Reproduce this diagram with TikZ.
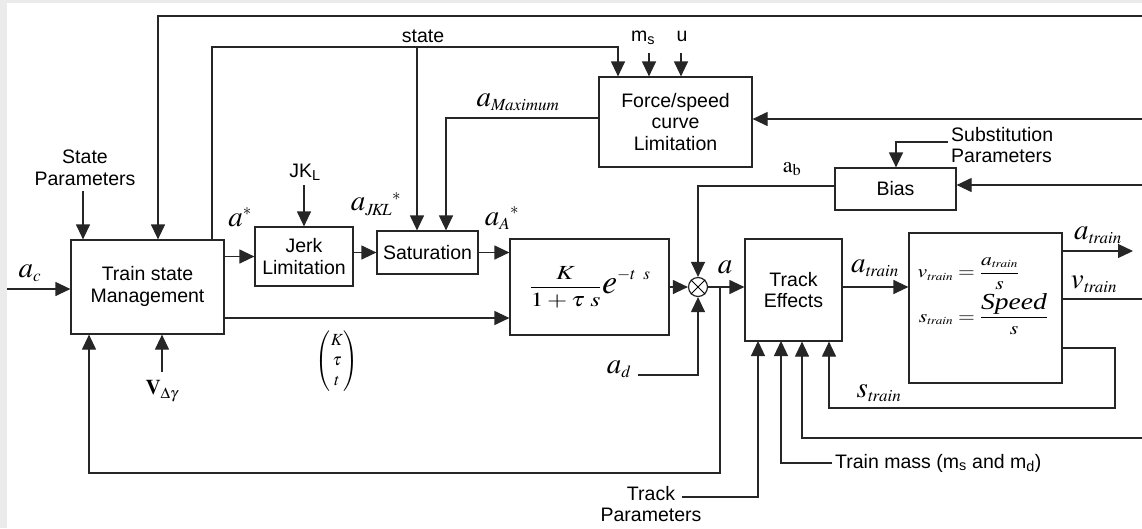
\documentclass[tikz,border=0pt]{standalone}
\usepackage{amsmath}
\usepackage{graphicx}
\usepackage{mathptmx}
\usepackage[no-math]{fontspec}
\setmainfont{Liberation Sans}
\newfontfamily\tms{Liberation Serif}
\usetikzlibrary{arrows.meta}
\DeclareMathSizes{29}{29}{17}{13}
\DeclareMathSizes{18}{18}{11}{9}
\DeclareMathSizes{20}{20}{13}{10}
\begin{document}
\begin{tikzpicture}[x=1pt,y=-1pt,
  ln/.style={line width=1.2pt, draw=black!85},
  arr/.style={ln, -{Triangle[length=15pt,width=14pt]}},
  blk/.style={draw=black!85, line width=1.2pt, rectangle, inner sep=0pt, align=center,
              font=\fontsize{19.5}{21.5}\selectfont, fill=white},
  txt/.style={inner sep=0pt, align=center, font=\fontsize{19.5}{21.5}\selectfont},
  mth/.style={inner sep=0pt, font=\fontsize{29}{32}\selectfont},
]
% background
\fill[gray!16] (0,0) rectangle (1142,528);
\fill[white] (7,3) rectangle (1142,528);
\useasboundingbox (0,0) rectangle (1142,528);

% blocks
\node[blk, minimum width=153pt, minimum height=94pt] (tsm) at (147.5,287) {\raisebox{-5pt}{\begin{tabular}{@{}c@{}}Train state\\Management\end{tabular}}};
\node[blk, minimum width=98pt, minimum height=59pt] (jl) at (304,256.5) {Jerk\\Limitation};
\node[blk, minimum width=101pt, minimum height=43pt] (sat) at (427.5,252.5) {Saturation};
\node[blk, minimum width=159pt, minimum height=96pt] (tf) at (589.5,287)
  {\scalebox{1.3}[1]{\fontsize{20}{24}\selectfont$\dfrac{K}{1+\tau\;s}$}\raisebox{-1pt}{\fontsize{34}{36}\selectfont$e$}\raisebox{13pt}{\fontsize{17}{18}\selectfont$-t\;\;s$}};
\node[circle, draw=black!85, line width=1.2pt, minimum size=19pt, inner sep=0pt, fill=white] (sum) at (698,287) {};
\draw[line width=1pt] (sum.north west) -- (sum.south east) (sum.north east) -- (sum.south west);
\node[blk, minimum width=97pt, minimum height=102pt] (te) at (793.5,290) {Track\\Effects};
\node[blk, minimum width=153pt, minimum height=150pt] (dyn) at (985.5,308) {};
\node[inner sep=0pt, font=\fontsize{18}{22}\selectfont] (dyneq) at (983,296)
  {\scalebox{1.2}[1]{$\begin{array}{@{}r@{\;}c@{\;}l@{}} v_{\mathit{train}} & = & \dfrac{a_{\mathit{train}}}{s}\\[10pt]
     s_{\mathit{train}} & = & \dfrac{\text{\tms\itshape\fontsize{23}{24}\selectfont Speed}}{s}\end{array}$}};
\node[blk, minimum width=153pt, minimum height=90pt] (fsl) at (675.5,122) {Force/speed\\curve\\Limitation};
\node[blk, minimum width=121pt, minimum height=42pt] (bias) at (895.5,189) {Bias};

% main forward path
\coordinate (acin) at (7,289);
\draw[arr] (acin) -- (acin -| tsm.west);
\node[mth] (aclab) at (30,273) {$a_c$};
\draw[arr] (jl.west -| tsm.east) -- (jl.west);
\node[mth] (astar) at (240,217) {$a^{*}$};
\draw[arr] (sat.west -| jl.east) -- (sat.west);
\node[mth] (ajkl) at (376,204) {$a_{J\!K\!L}{}^{*}$};
\draw[arr] (sat.east) -- (sat.east -| tf.west);
\node[mth] (aA) at (502,218) {$a_{A}{}^{*}$};
\coordinate (low) at (224,318);
\draw[arr] (low -| tsm.east) -- (low -| tf.west);
\node[inner sep=0pt, font=\fontsize{17}{20}\selectfont] (ktt) at (337,361) {$\begin{pmatrix}K\\ \tau\\ t\end{pmatrix}$};
\draw[arr] (tf.east) -- (sum.west);
\draw[arr] (sum.east) -- (sum.east -| te.west);
\node[mth] (alab) at (725,267) {$a$};
\coordinate (atr) at (842,287);
\draw[arr] (atr -| te.east) -- (atr -| dyn.west);
\node[mth] (atrlab) at (875,268) {$a_{\mathit{train}}$};
\coordinate (aout) at (1133,251);
\draw[arr] (aout -| dyn.east) -- (aout);
\node[mth] (aoutlab) at (1098,235) {$a_{\mathit{train}}$};
\coordinate (vout) at (1142,299);
\draw[ln] (vout -| dyn.east) -- (vout);
\node[mth] (voutlab) at (1094,284) {$v_{\mathit{train}}$};

% s_train loop
\coordinate (sl1) at (1115,348);
\coordinate (sl2) at (829,408);
\draw[arr] (sl1 -| dyn.east) -- (sl1) |- (sl2) -- (sl2 |- te.south);
\node[mth] (slab) at (879,393) {$s_{\mathit{train}}$};

% other track-effects inputs
\coordinate (r438) at (1142,438);
\coordinate (c802) at (802,438);
\draw[arr] (r438) -- (c802) -- (c802 |- te.south);
\node[txt, inner sep=3pt, anchor=west] (tmlab) at (832,463) {Train mass (m\textsubscript{s} and m\textsubscript{d})};
\coordinate (tmx) at (781,341);
\draw[arr] (tmlab.west) -| (tmx);
\node[txt] (tp) at (651,504) {Track\\Parameters};
\coordinate (tpl) at (682,497);
\coordinate (tpx) at (758,341);
\draw[arr] (tpl) -| (tpx);

% feedback of a
\coordinate (fb) at (720,287);
\coordinate (fbx) at (89,473);
\draw[arr] (fb) |- (fbx) -- (fbx |- tsm.south);

% V delta gamma
\node[inner sep=0pt, font=\fontsize{21}{24}\selectfont] (vdg) at (162,391) {$\mathbf{V}_{\Delta\gamma}$};
\coordinate (vdgt) at (162,372);
\draw[arr] (vdgt) -- (vdgt |- tsm.south);

% State parameters
\node[txt] (sp) at (85,168) {State\\Parameters};
\coordinate (spt) at (83,191);
\draw[arr] (spt) -- (spt |- tsm.north);

% top loop
\coordinate (t1) at (1142,16);
\coordinate (t2) at (158,16);
\draw[arr] (t1) -- (t2) -- (t2 |- tsm.north);

% state
\coordinate (s0) at (212,240);
\coordinate (s1) at (212,47);
\coordinate (s2) at (618,47);
\coordinate (s3) at (417,47);
\draw[arr] (s0) -- (s1) -- (s2) -- (s2 |- fsl.north);
\draw[arr] (s3) -- (s3 |- sat.north);
\node[txt] (statelab) at (423,36) {state};

% ms, u
\node[txt] (ms) at (643,38) {m\textsubscript{s}};
\node[txt] (u) at (682,36) {u};
\coordinate (mst) at (649,53);
\coordinate (ut) at (681,53);
\draw[arr] (mst) -- (mst |- fsl.north);
\draw[arr] (ut) -- (ut |- fsl.north);

% right input to force/speed
\coordinate (r119) at (1142,119);
\draw[arr] (r119) -- (r119 -| fsl.east);

% a maximum
\coordinate (am) at (446,118);
\draw[arr] (am -| fsl.west) -- (am) -- (am |- sat.north);
\node[mth] (amlab) at (518,102) {$a_{\mathit{Maximum}}$};

% JK_L
\node[txt] (jk) at (305,172) {JK\textsubscript{L}};
\coordinate (jkt) at (304,185);
\draw[arr] (jkt) -- (jkt |- jl.north);

% Bias inputs
\coordinate (r185) at (1142,185);
\draw[arr] (r185) -- (r185 -| bias.east);
\node[txt, anchor=west, align=left] (sub) at (951,145) {Substitution\\Parameters};
\coordinate (sb0) at (948,142);
\coordinate (sb) at (896,142);
\draw[arr] (sb0) -- (sb) -- (sb |- bias.north);

% a_b
\coordinate (ab) at (698,186);
\draw[arr] (ab -| bias.west) -- (ab) -- (sum.north);
\node[inner sep=0pt, font=\fontsize{22}{24}\selectfont] (ablab) at (792,169) {$\mathrm{a_b}$};

% a_d
\coordinate (ad) at (638,375);
\coordinate (adx) at (698,375);
\draw[arr] (ad) -- (adx) -- (sum.south);
\node[mth] (adlab) at (619,369) {$a_d$};
\end{tikzpicture}
\end{document}
